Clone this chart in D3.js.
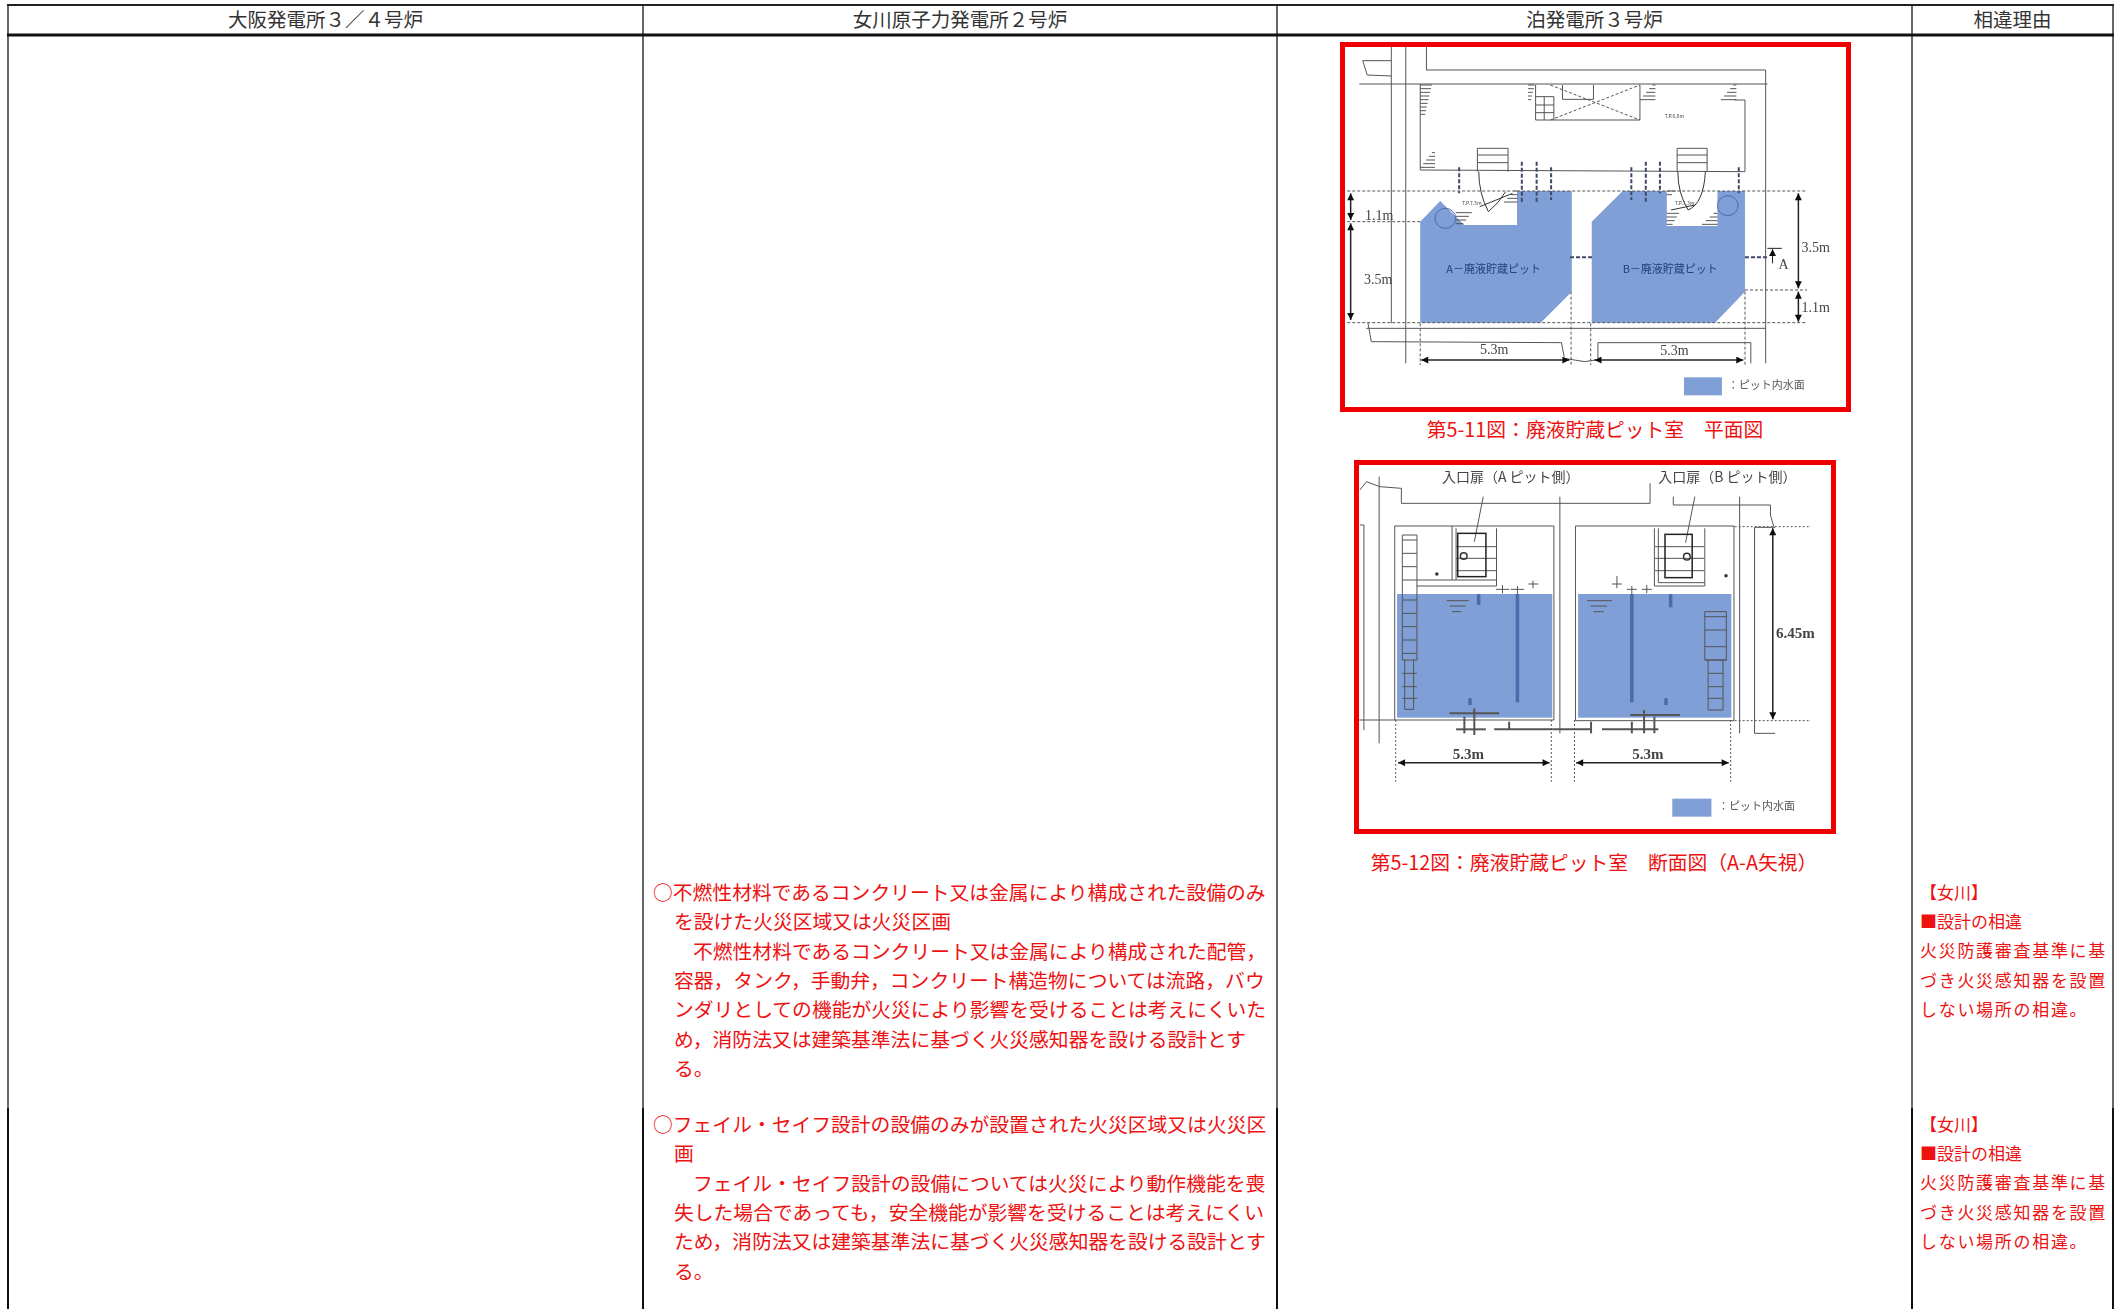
<!DOCTYPE html>
<html lang="ja">
<head>
<meta charset="utf-8">
<style>
html, body { margin: 0; padding: 0; background: #fff; }
svg { display: block; }
text { font-family: "Noto Sans CJK JP", sans-serif; }
.latin { font-family: "Liberation Serif", "Noto Sans CJK JP", serif; }
</style>
<script src="https://cdn.jsdelivr.net/npm/d3@7"></script>
</head>
<body>
<div id="chart"></div>
<script>
// table contents
const columns = ['大阪発電所３／４号炉', '女川原子力発電所２号炉', '泊発電所３号炉', '相違理由'];

const noteOne = [
  ['○不燃性材料であるコンクリート又は金属により構成された設備のみ', 0],
  ['を設けた火災区域又は火災区画', 1],
  ['不燃性材料であるコンクリート又は金属により構成された配管，', 2],
  ['容器，タンク，手動弁，コンクリート構造物については流路，バウ', 1],
  ['ンダリとしての機能が火災により影響を受けることは考えにくいた', 1],
  ['め，消防法又は建築基準法に基づく火災感知器を設ける設計とす', 1],
  ['る。', 1]
];
const noteTwo = [
  ['○フェイル・セイフ設計の設備のみが設置された火災区域又は火災区', 0],
  ['画', 1],
  ['フェイル・セイフ設計の設備については火災により動作機能を喪', 2],
  ['失した場合であっても，安全機能が影響を受けることは考えにくい', 1],
  ['ため，消防法又は建築基準法に基づく火災感知器を設ける設計とす', 1],
  ['る。', 1]
];
const reasonLines = ['【女川】', '■設計の相違', '火災防護審査基準に基', 'づき火災感知器を設置', 'しない場所の相違。'];

const captionPlan = '第5-11図：廃液貯蔵ピット室　平面図';
const captionSection = '第5-12図：廃液貯蔵ピット室　断面図（A-A矢視）';
const legendLabel = '：ピット内水面';

// plan figure, in its own drawing units
const planPits = [
  [[262,575],[320,513],[390,585],[543,585],[543,483],[702,483],[702,785],[612,878],[262,878]],
  [[760,575],[850,483],[978,483],[978,588],[1125,588],[1125,483],[1205,483],[1205,785],[1118,878],[760,878]]
];
const planLegendBox = [[1028,1042],[1138,1096]];
const planWalls = [
  [[178,50],[178,880]], [[220,50],[220,1000]], [[280,50],[280,120],[1265,120],[1265,1000]],
  [[85,162],[1270,162]], [[95,92],[178,92]], [[95,92],[108,135],[178,138]],
  [[262,162],[262,420],[1205,425],[1205,210],[1175,210]],
  [[597,165],[597,270],[900,270],[900,165]], [[675,165],[675,208],[765,208],[765,165]],
  [[597,200],[650,200],[650,270]], [[597,225],[650,225]], [[597,248],[650,248]], [[622,200],[622,270]],
  [[428,355],[517,355],[517,425]], [[428,355],[428,425]], [[428,375],[517,375]], [[428,398],[517,398]],
  [[1008,355],[1095,355],[1095,425]], [[1008,355],[1008,425]], [[1008,375],[1095,375]], [[1008,398],[1095,398]],
  [[110,878],[120,935],[672,938],[680,980]], [[105,895],[1265,895]],
  [[778,985],[778,938],[1222,938],[1222,1000]],
  [[680,985],[710,990],[740,995],[770,990]]
];
const planDashes = [
  [[50,483],[1385,483]], [[50,878],[1385,878]], [[50,575],[262,575]], [[1205,780],[1385,780]],
  [[262,880],[262,1005]], [[700,785],[700,1005]], [[757,880],[757,1005]], [[1205,785],[1205,1005]],
  [[640,270],[900,165]], [[640,165],[900,270]]
];
const planPipes = [
  [[375,412],[375,490]], [[557,395],[557,520]], [[600,395],[600,520]], [[642,412],[642,510]],
  [[875,412],[875,510]], [[917,395],[917,520]], [[958,395],[958,490]], [[1187,412],[1187,490]],
  [[697,682],[765,682]], [[1205,682],[1270,682]]
];
const planHatches = [
  [262,298,165,262,1], [262,305,368,420,-1], [575,597,165,212,1], [900,945,165,212,-1],
  [1135,1180,165,215,-1], [505,545,483,525,-1], [365,420,548,585,1],
  [978,1020,550,588,1], [1080,1125,550,588,-1], [978,1015,483,500,1]
];
const planCircles = [[335,565,30],[1155,527,30]];
const planArcs = [
  'M432,425 Q432,490 460,545 Q490,520 510,485', 'M1010,425 Q1010,490 1040,540 Q1085,520 1090,425',
  'M435,530 L530,490', 'M990,540 L1060,525'
];
const planDims = [
  [[60,490],[60,570]], [[60,580],[60,870]], [[1360,490],[1360,775]], [[1360,785],[1360,875]],
  [[265,990],[695,990]], [[768,990],[1200,990]]
];
const planLabels = [
  ['1.1m',143,555,true], ['3.5m',140,748,true], ['3.5m',1410,652,true], ['1.1m',1410,832,true],
  ['5.3m',477,958,true], ['5.3m',1000,960,true], ['A',1317,703,true]
];
const planPitNames = [['A－廃液貯蔵ピット',475,716],['B－廃液貯蔵ピット',988,716]];
const planFloorTags = [['T.P.6.8m',1000,257],['T.P.7.3m',412,518],['T.P.7.3m',1030,520]];

// section figure, in its own drawing units
const sectionWater = [[[172,432],[640,803]], [[718,432],[1180,803]]];
const sectionLegendBox = [[1002,1046],[1120,1100]];
const sectionWalls = [
  [[165,228],[645,228],[645,810],[165,810],[165,228]], [[710,228],[1188,228],[1188,812],[710,812],[710,228]],
  [[60,120],[80,95],[120,110],[185,115],[185,160],[935,160],[935,100]],
  [[1005,140],[1005,165],[1298,165],[1298,195],[1308,230]],
  [[118,80],[118,880]], [[663,140],[663,850]], [[1205,140],[1205,850]],
  [[60,225],[72,225],[72,840]], [[58,810],[165,810]],
  [[1312,232],[1250,232],[1250,850],[1312,850]],
  [[350,235],[350,390]], [[338,228],[338,390]], [[472,235],[472,408],[232,408]], [[232,390],[472,390]],
  [[948,235],[948,408],[1100,408],[1100,235]], [[960,235],[960,398],[1100,398]],
  [[350,290],[470,290]], [[350,325],[470,325]], [[350,362],[470,362]],
  [[950,290],[1098,290]], [[950,325],[1098,325]], [[950,362],[1098,362]],
  [[188,255],[232,255],[232,630],[188,630],[188,255]], [[195,630],[195,778],[222,778],[222,630]],
  [[1100,485],[1165,485],[1165,630],[1100,630],[1100,485]], [[1110,630],[1110,780],[1155,780],[1155,630]],
  [[322,452],[388,452]], [[330,468],[380,468]], [[338,485],[365,485]],
  [[745,452],[820,452]], [[755,468],[805,468]], [[765,485],[795,485]],
  [[432,140],[405,275]], [[1070,140],[1042,278]],
  [[470,418],[510,418]], [[490,405],[490,430]], [[515,418],[555,418]], [[535,408],[535,432]],
  [[568,402],[598,402]], [[582,392],[582,415]], [[820,402],[850,402]], [[835,378],[835,415]],
  [[865,418],[895,418]], [[880,408],[880,432]], [[910,418],[940,418]], [[925,405],[925,430]]
];
const sectionRungs = [
  [188,232,[270,310,350,390,450,490,530,570,610,670,710,745]],
  [1100,1165,[500,540,590,630]], [1110,1155,[670,710,745]]
];
const sectionDashes = [
  [[1190,230],[1420,230]], [[1190,812],[1420,812]],
  [[168,810],[168,995]], [[637,810],[637,995]], [[707,810],[707,995]], [[1178,810],[1178,995]]
];
const sectionDoors = [[[355,250],[440,380]], [[980,253],[1062,383]]];
const sectionValves = [[373,318,10],[1046,320,10],[292,372,3],[1164,377,3]];
const sectionPipes = [[[535,432],[535,757]], [[880,432],[880,757]], [[418,432],[418,465]], [[997,432],[997,472]], [[392,745],[392,765]], [[983,745],[983,765]]];
const sectionBottom = [
  [[330,790],[480,790]], [[875,795],[1025,795]], [[350,838],[440,838]], [[465,838],[640,838]], [[640,838],[755,838]], [[790,838],[960,838]],
  [[375,800],[375,850]], [[405,775],[405,855]], [[917,780],[917,850]], [[948,800],[948,850]], [[510,815],[510,838]], [[757,815],[757,850]], [[880,815],[880,850]]
];
const sectionDims = [[[175,938],[632,938]], [[712,938],[1172,938]], [[1305,235],[1305,808]]];
const sectionLabels = [['5.3m',387,912,true], ['5.3m',928,912,true], ['6.45m',1373,550,true]];
const sectionDoorNames = [['入口扉（A ピット側）',515,80],['入口扉（B ピット側）',1168,80]];

// layout
const W = 2121, H = 1309;
const red = '#ee1111', water = '#7f9fd6', ink = '#555';
const colX = d3.scaleLinear([0, 1, 2, 3, 4], [8, 643, 1277, 1912, 2113]);
const lineBreak = 1108;

const svg = d3.select('#chart').append('svg').attr('width', W).attr('height', H);
svg.append('rect').attr('width', W).attr('height', H).attr('fill', '#fff');

const defs = svg.append('defs');
defs.append('filter').attr('id', 'soft').append('feGaussianBlur').attr('stdDeviation', 0.45);
defs.append('marker').attr('id', 'arrow').attr('viewBox', '0 0 10 10').attr('refX', 10).attr('refY', 5)
  .attr('markerWidth', 9).attr('markerHeight', 7).attr('markerUnits', 'userSpaceOnUse').attr('orient', 'auto-start-reverse')
  .append('path').attr('d', 'M0,0L10,5L0,10Z').attr('fill', '#111');

// grid of the table
const grid = svg.append('g');
grid.selectAll('.rule').data(d3.range(5)).enter().append('line').attr('class', 'rule')
  .attr('x1', colX).attr('x2', colX).attr('y1', 5).attr('y2', lineBreak)
  .attr('stroke', '#666').attr('stroke-width', 2);
grid.selectAll('.ruleLow').data(d3.range(5)).enter().append('line').attr('class', 'ruleLow')
  .attr('x1', colX).attr('x2', colX).attr('y1', lineBreak).attr('y2', H)
  .attr('stroke', '#111').attr('stroke-width', 2);
grid.append('line').attr('x1', colX(0) - 1).attr('x2', colX(4) + 1).attr('y1', 5).attr('y2', 5).attr('stroke', '#222').attr('stroke-width', 2);
grid.append('line').attr('x1', colX(0) - 1).attr('x2', colX(4) + 1).attr('y1', 35).attr('y2', 35).attr('stroke', '#111').attr('stroke-width', 3);

svg.append('g').selectAll('text').data(columns).enter().append('text')
  .attr('x', (d, i) => (colX(i) + colX(i + 1)) / 2).attr('y', 27)
  .attr('text-anchor', 'middle').attr('font-size', 19.5).attr('fill', '#333')
  .text(d => d);

// red notes in the second column
const indentX = d3.scaleOrdinal([0, 1, 2], [653, 674, 693]);
function drawNote(lines, top) {
  svg.append('g').selectAll('text').data(lines).enter().append('text')
    .attr('x', d => indentX(d[1])).attr('y', (d, i) => top + i * 29.3)
    .attr('font-size', 19.8).attr('fill', red)
    .text(d => d[0]);
}
drawNote(noteOne, 900);
drawNote(noteTwo, 1132);

// reason column
function drawReason(top) {
  svg.append('g').selectAll('text').data(reasonLines).enter().append('text')
    .attr('x', 1920).attr('y', (d, i) => top + i * 29.2)
    .attr('font-size', 17).attr('fill', red)
    .attr('letter-spacing', (d, i) => i < 2 ? 0 : 1.7)
    .text(d => d);
}
drawReason(899);
drawReason(1131);

const polyline = d3.line();

function drawFigure(x, y, g) {
  const pt = d => [x(d[0]), y(d[1])];
  const group = svg.append('g').attr('filter', 'url(#soft)');
  g(group, pt);
  return group;
}

// plan figure
const planX = d3.scaleLinear([0, 1568], [1330, 1870]);
const planY = d3.scaleLinear([0, 1260], [30, 450]);
drawFigure(planX, planY, (fig, pt) => {
  fig.selectAll('.pit').data(planPits).enter().append('path').attr('class', 'pit')
    .attr('d', d => polyline(d.map(pt)) + 'Z').attr('fill', water);
  fig.append('rect').attr('x', planX(planLegendBox[0][0])).attr('y', planY(planLegendBox[0][1]))
    .attr('width', planX(planLegendBox[1][0]) - planX(planLegendBox[0][0]))
    .attr('height', planY(planLegendBox[1][1]) - planY(planLegendBox[0][1])).attr('fill', water);
  fig.selectAll('.wall').data(planWalls).enter().append('path').attr('class', 'wall')
    .attr('d', d => polyline(d.map(pt))).attr('fill', 'none').attr('stroke', ink).attr('stroke-width', 1);
  fig.selectAll('.dash').data(planDashes).enter().append('path').attr('class', 'dash')
    .attr('d', d => polyline(d.map(pt))).attr('fill', 'none').attr('stroke', ink).attr('stroke-width', 1).attr('stroke-dasharray', '3,2');
  fig.selectAll('.pipe').data(planPipes).enter().append('path').attr('class', 'pipe')
    .attr('d', d => polyline(d.map(pt))).attr('fill', 'none').attr('stroke', '#3c4a66').attr('stroke-width', 2).attr('stroke-dasharray', '4,2');
  planHatches.forEach(h => {
    d3.range(h[2], h[3], 11).forEach((yy, i, all) => {
      const t = (i + 1) / all.length;
      const len = (h[1] - h[0]) * (h[4] > 0 ? 1 - t * 0.6 : t);
      const x0 = h[4] > 0 ? h[0] : h[1] - len;
      fig.append('path').attr('d', polyline([pt([x0, yy]), pt([x0 + len, yy])])).attr('stroke', ink).attr('stroke-width', 1);
    });
  });
  fig.selectAll('.tank').data(planCircles).enter().append('ellipse').attr('class', 'tank')
    .attr('cx', d => planX(d[0])).attr('cy', d => planY(d[1]))
    .attr('rx', d => d[2] / 2.904).attr('ry', d => d[2] / 3)
    .attr('fill', 'none').attr('stroke', '#4a6cab').attr('stroke-width', 1);
  const arcScale = `translate(${planX(0)},${planY(0)}) scale(${planX(1) - planX(0)},${planY(1) - planY(0)})`;
  fig.selectAll('.arc').data(planArcs).enter().append('path').attr('class', 'arc')
    .attr('d', d => d).attr('transform', arcScale).attr('fill', 'none').attr('stroke', '#333')
    .attr('stroke-width', 1).attr('vector-effect', 'non-scaling-stroke');
  fig.selectAll('.dim').data(planDims).enter().append('path').attr('class', 'dim')
    .attr('d', d => polyline(d.map(pt))).attr('stroke', '#222').attr('stroke-width', 1.5)
    .attr('marker-start', 'url(#arrow)').attr('marker-end', 'url(#arrow)');
  fig.append('path').attr('d', polyline([[1270, 655], [1312, 655]].map(pt))).attr('stroke', '#222').attr('stroke-width', 1);
  fig.append('path').attr('d', polyline([[1285, 700], [1285, 657]].map(pt))).attr('stroke', '#222').attr('stroke-width', 1).attr('marker-end', 'url(#arrow)');
  fig.selectAll('.lab').data(planLabels).enter().append('text').attr('class', 'lab latin')
    .attr('x', d => planX(d[1])).attr('y', d => planY(d[2]) + 5).attr('text-anchor', 'middle')
    .attr('font-size', 14).attr('fill', '#444').text(d => d[0]);
  fig.selectAll('.name').data(planPitNames).enter().append('text').attr('class', 'name')
    .attr('x', d => planX(d[1])).attr('y', d => planY(d[2]) + 4).attr('text-anchor', 'middle')
    .attr('font-size', 11).attr('fill', '#24407a').text(d => d[0]);
  fig.selectAll('.tag').data(planFloorTags).enter().append('text').attr('class', 'tag')
    .attr('x', d => planX(d[1])).attr('y', d => planY(d[2]) + 2).attr('text-anchor', 'middle')
    .attr('font-size', 5).attr('fill', '#444').text(d => d[0]);
  fig.append('text').attr('x', planX(1155)).attr('y', planY(1065) + 4).attr('font-size', 11).attr('fill', '#555').text(legendLabel);
});

// section figure
const secX = d3.scaleLinear([0, 1568], [1340, 1860]);
const secY = d3.scaleLinear([0, 1290], [450, 880]);
drawFigure(secX, secY, (fig, pt) => {
  fig.selectAll('.water').data(sectionWater.concat([sectionLegendBox])).enter().append('rect').attr('class', 'water')
    .attr('x', d => secX(d[0][0])).attr('y', d => secY(d[0][1]))
    .attr('width', d => secX(d[1][0]) - secX(d[0][0])).attr('height', d => secY(d[1][1]) - secY(d[0][1]))
    .attr('fill', water);
  fig.selectAll('.wall').data(sectionWalls).enter().append('path').attr('class', 'wall')
    .attr('d', d => polyline(d.map(pt))).attr('fill', 'none').attr('stroke', ink).attr('stroke-width', 1);
  sectionRungs.forEach(r => {
    r[2].forEach(yy => {
      fig.append('path').attr('d', polyline([pt([r[0], yy]), pt([r[1], yy])])).attr('stroke', ink).attr('stroke-width', 1);
    });
  });
  fig.selectAll('.dash').data(sectionDashes).enter().append('path').attr('class', 'dash')
    .attr('d', d => polyline(d.map(pt))).attr('fill', 'none').attr('stroke', ink).attr('stroke-width', 1).attr('stroke-dasharray', '2,2');
  fig.selectAll('.door').data(sectionDoors).enter().append('rect').attr('class', 'door')
    .attr('x', d => secX(d[0][0])).attr('y', d => secY(d[0][1]))
    .attr('width', d => secX(d[1][0]) - secX(d[0][0])).attr('height', d => secY(d[1][1]) - secY(d[0][1]))
    .attr('fill', 'none').attr('stroke', '#222').attr('stroke-width', 1.5);
  fig.selectAll('.valve').data(sectionValves).enter().append('circle').attr('class', 'valve')
    .attr('cx', d => secX(d[0])).attr('cy', d => secY(d[1])).attr('r', d => d[2] / 3)
    .attr('fill', d => d[2] > 5 ? 'none' : '#111').attr('stroke', '#333').attr('stroke-width', 1.5);
  fig.selectAll('.pipe').data(sectionPipes).enter().append('path').attr('class', 'pipe')
    .attr('d', d => polyline(d.map(pt))).attr('stroke', '#4a6cab').attr('stroke-width', 3.5);
  fig.selectAll('.bottom').data(sectionBottom).enter().append('path').attr('class', 'bottom')
    .attr('d', d => polyline(d.map(pt))).attr('stroke', '#555').attr('stroke-width', 2);
  fig.selectAll('.dim').data(sectionDims).enter().append('path').attr('class', 'dim')
    .attr('d', d => polyline(d.map(pt))).attr('stroke', '#222').attr('stroke-width', 1.5)
    .attr('marker-start', 'url(#arrow)').attr('marker-end', 'url(#arrow)');
  fig.selectAll('.lab').data(sectionLabels).enter().append('text').attr('class', 'lab latin')
    .attr('x', d => secX(d[1])).attr('y', d => secY(d[2]) + 5).attr('text-anchor', 'middle')
    .attr('font-size', 15).attr('font-weight', 'bold').attr('fill', '#444').text(d => d[0]);
  fig.selectAll('.name').data(sectionDoorNames).enter().append('text').attr('class', 'name')
    .attr('x', d => secX(d[1])).attr('y', d => secY(d[2]) + 5).attr('text-anchor', 'middle')
    .attr('font-size', 14).attr('fill', '#444').text(d => d[0]);
  fig.append('text').attr('x', secX(1140)).attr('y', secY(1068) + 4).attr('font-size', 11).attr('fill', '#555').text(legendLabel);
});

// red frames and captions stay sharp
const frames = [[1340, 42, 1851, 412], [1354, 460, 1836, 834]];
svg.append('g').selectAll('rect').data(frames).enter().append('rect')
  .attr('x', d => d[0] + 2.5).attr('y', d => d[1] + 2.5)
  .attr('width', d => d[2] - d[0] - 5).attr('height', d => d[3] - d[1] - 5)
  .attr('fill', 'none').attr('stroke', '#ee0000').attr('stroke-width', 5);

svg.append('text').attr('x', 1595).attr('y', 437).attr('text-anchor', 'middle')
  .attr('font-size', 19.8).attr('fill', red).text(captionPlan);
svg.append('text').attr('x', 1594).attr('y', 870).attr('text-anchor', 'middle')
  .attr('font-size', 19.8).attr('fill', red).text(captionSection);
</script>
</body>
</html>
